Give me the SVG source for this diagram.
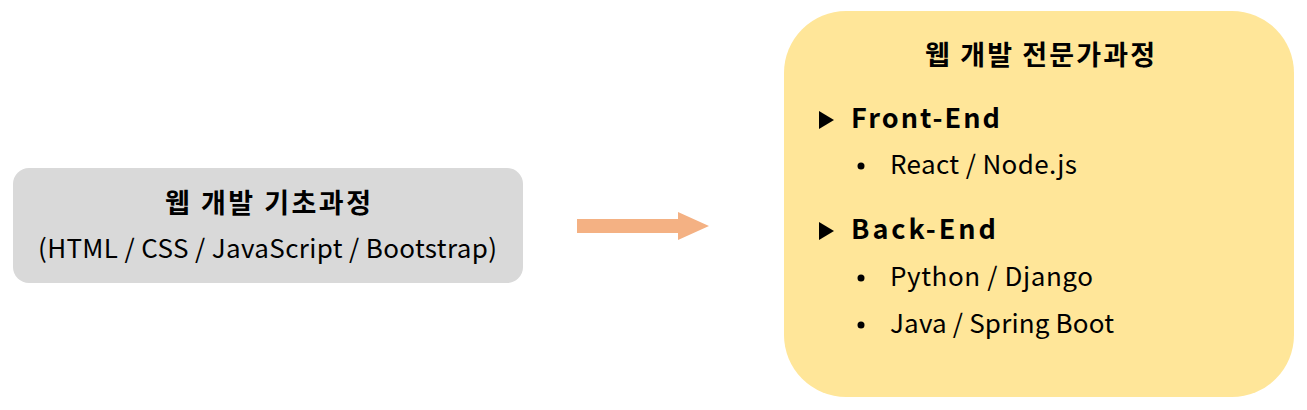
<svg xmlns="http://www.w3.org/2000/svg" width="1307" height="410" viewBox="0 0 1307 410">
<style>
text { font-family: "Noto Sans CJK KR", "Noto Sans", sans-serif; fill: #000; }
.t { font-size: 27px; font-weight: 700; }
.s { font-size: 26px; }
.h { font-size: 27px; font-weight: 700; }
</style>
<rect width="1307" height="410" fill="#fff"/>
<g id="basic">
<rect x="13" y="168" width="510" height="115" rx="16" fill="#d9d9d9"/>
<text class="t" x="165" y="213" textLength="206" lengthAdjust="spacing">웹 개발 기초과정</text>
<text class="s" x="38" y="258" textLength="459" lengthAdjust="spacing">(HTML / CSS / JavaScript / Bootstrap)</text>
</g>
<g id="connectors">
<polygon points="577,219 678,219 678,212 709,226 678,240 678,233 577,233" fill="#f4b183"/>
</g>
<g id="expert">
<rect x="784" y="11" width="510" height="386" rx="62" fill="#ffe699"/>
<text class="t" x="925" y="65" textLength="230" lengthAdjust="spacing">웹 개발 전문가과정</text>
<polygon points="819,111 834,120 819,129" fill="#000"/>
<text class="h" x="851" y="128" textLength="149" lengthAdjust="spacing">Front-End</text>
<circle cx="861" cy="166" r="3.5" fill="#000"/>
<text class="s" x="890" y="174" textLength="187" lengthAdjust="spacing">React / Node.js</text>
<polygon points="819,222 834,231 819,240" fill="#000"/>
<text class="h" x="851" y="239" textLength="145" lengthAdjust="spacing">Back-End</text>
<circle cx="861" cy="278" r="3.5" fill="#000"/>
<text class="s" x="890" y="286" textLength="203" lengthAdjust="spacing">Python / Django</text>
<circle cx="861" cy="325" r="3.5" fill="#000"/>
<text class="s" x="890" y="333" textLength="224" lengthAdjust="spacing">Java / Spring Boot</text>
</g>
</svg>
